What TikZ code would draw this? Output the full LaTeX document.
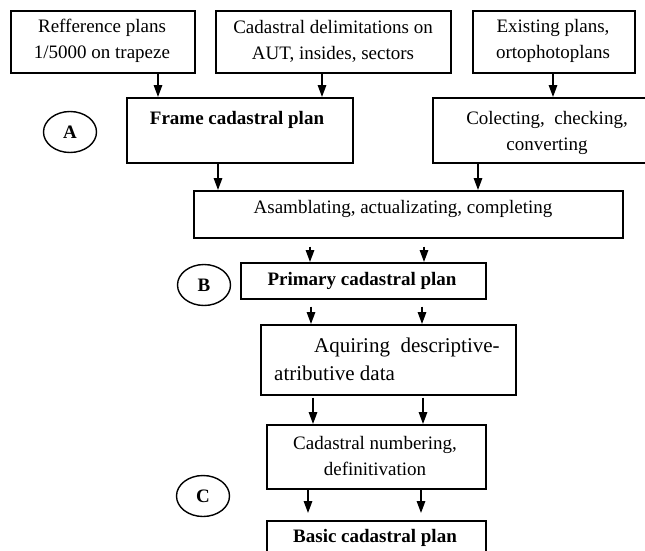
\documentclass[tikz,border=0pt]{standalone}
\usepackage{fontspec}
\setmainfont{Liberation Serif}
\usetikzlibrary{arrows.meta,shapes.geometric}
\begin{document}
\begin{tikzpicture}[x=1pt,y=-1pt,
  box/.style={draw, line width=1.6pt, anchor=north west, inner sep=0pt},
  txt/.style={font=\fontsize{19}{26}\selectfont, align=center, inner sep=0pt},
  btxt/.style={font=\bfseries\fontsize{19}{26}\selectfont, align=center, inner sep=0pt},
  arr/.style={-{Triangle[length=12pt,width=8.5pt]}, line width=1.5pt},
  circ/.style={draw, ellipse, line width=1.4pt, minimum width=53pt, minimum height=41pt, inner sep=0pt, font=\bfseries\fontsize{19}{19}\selectfont}]
\useasboundingbox (0,0) rectangle (645,550);
\clip (0,0) rectangle (645,550);
% boxes
\node[box, minimum width=184pt, minimum height=62pt] (b1) at (10,10) {};
\node[box, minimum width=235pt, minimum height=62pt] (b2) at (215,10) {};
\node[box, minimum width=162pt, minimum height=62pt] (b3) at (472,10) {};
\node[box, minimum width=226pt, minimum height=65pt] (fr) at (126,97) {};
\node[box, minimum width=220pt, minimum height=65pt] (col) at (432,97) {};
\node[box, minimum width=429pt, minimum height=47pt] (asm) at (193,190) {};
\node[box, minimum width=245pt, minimum height=36pt] (pri) at (240,262) {};
\node[box, minimum width=255pt, minimum height=70pt] (aq) at (260,324) {};
\node[box, minimum width=219pt, minimum height=64pt] (cn) at (266,424) {};
\node[box, minimum width=219pt, minimum height=50pt] (bas) at (266,520) {};
% texts
\node[txt] (t1) at (102,41) {Refference plans\\1/5000 on trapeze};
\node[txt] (t2) at (333,41) {Cadastral delimitations on\\AUT, insides, sectors};
\node[txt] (t3) at (553,41) {Existing plans,\\ortophotoplans};
\node[btxt] (tfr) at (237,120) {Frame cadastral plan};
\node[txt] (tcol) at (547,133) {Colecting,\ \ checking,\\converting};
\node[txt] (tasm) at (403,209) {Asamblating, actualizating, completing};
\node[btxt] (tpri) at (362,281) {Primary cadastral plan};
\node[txt, anchor=west, font=\fontsize{21}{26}\selectfont] (taq1) at (314,347) {Aquiring\ \ descriptive-};
\node[txt, anchor=west, font=\fontsize{21}{26}\selectfont] (taq2) at (274,373) {atributive data};
\node[txt] (tcn) at (375,456) {Cadastral numbering,\\definitivation};
\node[btxt] (tbas) at (375,538) {Basic cadastral plan};
% circles
\node[circ] (cA) at (70,132) {A};
\node[circ] (cB) at (204,285) {B};
\node[circ] (cC) at (203,496) {C};
% arrow columns
\coordinate (x1) at (158,0);
\coordinate (x2) at (322,0);
\coordinate (x3) at (553,0);
\coordinate (x4) at (218,0);
\coordinate (x5) at (478,0);
\coordinate (x6) at (310,0);
\coordinate (x7) at (424,0);
\coordinate (x8) at (311,0);
\coordinate (x9) at (422,0);
\coordinate (x10) at (313,0);
\coordinate (x11) at (423,0);
\coordinate (x12) at (308,0);
\coordinate (x13) at (421,0);
% arrows
\draw[arr] (b1.south -| x1) -- (fr.north -| x1);
\draw[arr] (b2.south -| x2) -- (fr.north -| x2);
\draw[arr] (b3.south -| x3) -- (col.north -| x3);
\draw[arr] (fr.south -| x4) -- (asm.north -| x4);
\draw[arr] (col.south -| x5) -- (asm.north -| x5);
\draw[arr, shorten <=8pt] (asm.south -| x6) -- (pri.north -| x6);
\draw[arr, shorten <=8pt] (asm.south -| x7) -- (pri.north -| x7);
\draw[arr, shorten <=7pt] (pri.south -| x8) -- (aq.north -| x8);
\draw[arr, shorten <=7pt] (pri.south -| x9) -- (aq.north -| x9);
\draw[arr, shorten <=2pt] (aq.south -| x10) -- (cn.north -| x10);
\draw[arr, shorten <=2pt] (aq.south -| x11) -- (cn.north -| x11);
\draw[arr, shorten >=7pt] (cn.south -| x12) -- (bas.north -| x12);
\draw[arr, shorten >=7pt] (cn.south -| x13) -- (bas.north -| x13);
\end{tikzpicture}
\end{document}
